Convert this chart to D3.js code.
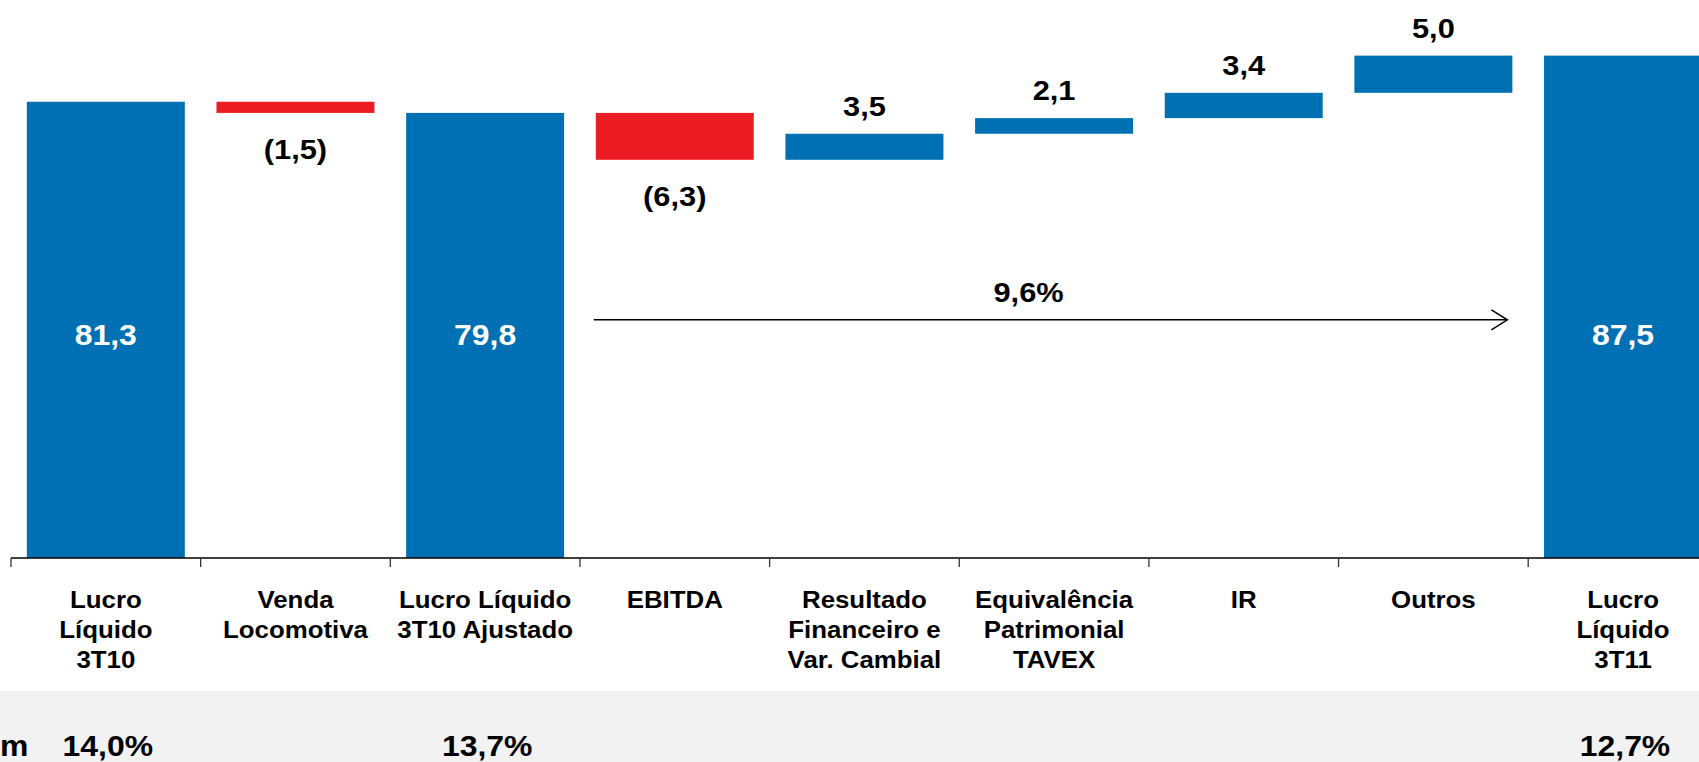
<!DOCTYPE html>
<html>
<head>
<meta charset="utf-8">
<script src="https://cdn.jsdelivr.net/npm/d3@7"></script>
<style>
  html, body { margin: 0; padding: 0; background: #fff; overflow: hidden; }
  svg { display: block; font-family: "Liberation Sans", Arial, sans-serif; font-weight: bold; }
</style>
</head>
<body>
<svg id="chart" width="1699" height="762"></svg>
<script>
// ---------- data ----------
const categories = [
  ["Lucro", "Líquido", "3T10"],
  ["Venda", "Locomotiva"],
  ["Lucro Líquido", "3T10 Ajustado"],
  ["EBITDA"],
  ["Resultado", "Financeiro e", "Var. Cambial"],
  ["Equivalência", "Patrimonial", "TAVEX"],
  ["IR"],
  ["Outros"],
  ["Lucro", "Líquido", "3T11"]
];
const values = [81.3, -1.5, 79.8, -6.3, 3.5, 2.1, 3.4, 5.0, 87.5];
const kinds = ["total", "delta", "total", "delta", "delta", "delta", "delta", "delta", "total"];
const valueLabels = ["81,3", "(1,5)", "79,8", "(6,3)", "3,5", "2,1", "3,4", "5,0", "87,5"];
const marginLabels = ["14,0%", "", "13,7%", "", "", "", "", "", "12,7%"];
const marginRowLabel = "m";
const growthLabel = "9,6%";
const growthFrom = 3, growthTo = 7;   // category indices spanned by the arrow
const arrowLevel = 52;                // value level of the growth arrow
const yDomain = [20, 90];

// ---------- layout ----------
const W = 1699, H = 762;
const BLUE = "#0070B4", RED = "#ED1C24", GRAY = "#F2F2F2";
const SX = 1.1; // horizontal stretch of the original lettering

const svg = d3.select("#chart");
const ids = d3.range(categories.length);

const x = d3.scaleBand().domain(ids).range([11, 11 + 9 * 189.65])
  .paddingInner(0.167).paddingOuter(0.0835);
const y = d3.scaleLinear().domain(yDomain).range([558, 37]);

// waterfall computation
let running = 0;
const bars = values.map((v, i) => {
  let lo, hi;
  if (kinds[i] === "total") { running = v; lo = yDomain[0]; hi = v; }
  else { const s = running; running = s + v; lo = Math.min(s, running); hi = Math.max(s, running); }
  return { i, v, lo, hi, kind: kinds[i] };
});

// gray band of the margin row
svg.append("rect").attr("x", 0).attr("y", 691).attr("width", W).attr("height", H - 691)
  .attr("fill", GRAY);

// bars
svg.append("g").selectAll("rect").data(bars).join("rect")
  .attr("x", d => x(d.i))
  .attr("width", x.bandwidth())
  .attr("y", d => y(d.hi))
  .attr("height", d => y(d.lo) - y(d.hi))
  .attr("fill", d => d.kind === "total" ? BLUE : (d.v < 0 ? RED : BLUE));

// helper for stretched text
function txt(g, str, tx, ty, size, fill, anchor) {
  return g.append("text")
    .attr("transform", `translate(${tx},${ty}) scale(${SX},1)`)
    .attr("text-anchor", anchor || "middle")
    .attr("font-size", size)
    .attr("fill", fill || "#000")
    .text(str);
}

// value labels
const lg = svg.append("g");
bars.forEach(d => {
  const cx = x(d.i) + x.bandwidth() / 2;
  if (d.kind === "total") {
    txt(lg, valueLabels[d.i], cx, y(50) + 10, 29, "#fff");
  } else if (d.v < 0) {
    txt(lg, valueLabels[d.i], cx, y(d.lo) + 46, 28, "#000");
  } else {
    txt(lg, valueLabels[d.i], cx, y(d.hi) - 18, 28, "#000");
  }
});

// axis: baseline and ticks at category boundaries
const ax = svg.append("g");
const step = x.step();
const bounds = ids.map(i => x(i) - (step - x.bandwidth()) / 2);
ax.append("line").attr("x1", bounds[0]).attr("x2", W).attr("y1", y(yDomain[0])).attr("y2", y(yDomain[0]))
  .attr("stroke", "#000").attr("stroke-width", 1.3);
ax.selectAll("line.tick").data(bounds).join("line").attr("class", "tick")
  .attr("x1", d => d).attr("x2", d => d)
  .attr("y1", y(yDomain[0])).attr("y2", y(yDomain[0]) + 9)
  .attr("stroke", "#333").attr("stroke-width", 1.3);

// category labels
categories.forEach((lines, i) => {
  const cx = x(i) + x.bandwidth() / 2;
  lines.forEach((ln, k) => txt(ax, ln, cx, 608 + k * 30, 23.5, "#000"));
});

// growth arrow
const ay = y(arrowLevel);
const ax1 = x(growthFrom) - 2, ax2 = x(growthTo) + x.bandwidth() - 5;
svg.append("line").attr("x1", ax1).attr("x2", ax2).attr("y1", ay).attr("y2", ay)
  .attr("stroke", "#000").attr("stroke-width", 1.5);
svg.append("path")
  .attr("d", `M${ax2 - 16},${ay - 10} L${ax2},${ay} L${ax2 - 16},${ay + 10}`)
  .attr("fill", "none").attr("stroke", "#000").attr("stroke-width", 1.5);
txt(svg, growthLabel, (ax1 + ax2) / 2 - 22, ay - 18, 28, "#000");

// margin row
marginLabels.forEach((m, i) => {
  if (!m) return;
  txt(svg, m, x(i) + x.bandwidth() / 2 + 2, 756, 29, "#000");
});
txt(svg, marginRowLabel, 0, 756, 29, "#000", "start");
</script>
</body>
</html>
